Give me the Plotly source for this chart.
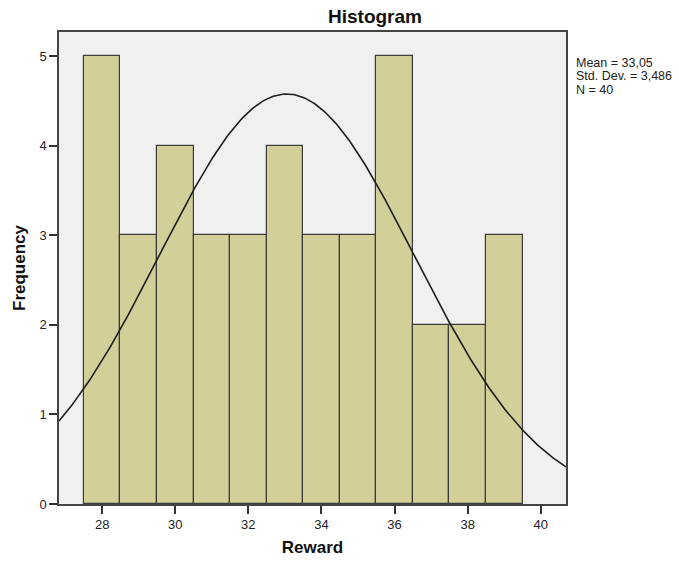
import numpy as np
import plotly.graph_objects as go

# Data
bin_centers = [28, 29, 30, 31, 32, 33, 34, 35, 36, 37, 38, 39]
counts = [5, 3, 4, 3, 3, 4, 3, 3, 5, 2, 2, 3]
mean_val = 33.05
std_val = 3.486
n_val = 40
bin_width = 1.0
x_ticks = [28, 30, 32, 34, 36, 38, 40]
y_ticks = [0, 1, 2, 3, 4, 5]
stats_lines = ["Mean = 33,05", "Std. Dev. = 3,486", "N = 40"]

W, H = 679, 566
plot_l, plot_r, plot_t, plot_b = 59, 566, 32, 508
ml, mt, mr, mb = plot_l, plot_t, W - plot_r, H - plot_b
pw = plot_r - plot_l
ph = plot_b - plot_t

xr = [26.82, 40.69]
yr = [0, 5.27]

# fitted normal curve from the stated statistics
cx = np.linspace(xr[0], xr[1], 300)
cy = n_val * bin_width / (std_val * np.sqrt(2 * np.pi)) * np.exp(-0.5 * ((cx - mean_val) / std_val) ** 2)

fig = go.Figure()
fig.add_trace(go.Bar(
    x=bin_centers, y=counts, width=bin_width,
    marker=dict(color="#D3CF98", line=dict(color="#3C3C3C", width=1.2)),
    hoverinfo="x+y",
))
fig.add_trace(go.Scatter(
    x=cx, y=cy, mode="lines",
    line=dict(color="#1E1E1E", width=1.6),
    hoverinfo="skip",
))

fig.update_layout(
    width=W, height=H,
    margin=dict(l=ml, r=mr, t=mt, b=mb),
    paper_bgcolor="white",
    plot_bgcolor="#F0F0F0",
    showlegend=False,
    bargap=0,
    font=dict(family="Arial, Liberation Sans, sans-serif", color="#222222", size=13),
)

fig.update_xaxes(
    range=xr, tickvals=x_ticks, ticktext=[str(t) for t in x_ticks],
    ticks="outside", ticklen=8, tickwidth=1.5, tickcolor="#333333",
    showline=True, linecolor="#444444", linewidth=1.5, mirror=True,
    showgrid=False, zeroline=False,
    tickfont=dict(size=13, color="#222222"),
    title=dict(text="<b>Reward</b>", font=dict(size=17, color="#111111"), standoff=10),
)
fig.update_yaxes(
    range=yr, tickvals=y_ticks, ticktext=[str(t) for t in y_ticks],
    ticks="outside", ticklen=8, tickwidth=1.5, tickcolor="#333333",
    showline=True, linecolor="#444444", linewidth=1.5, mirror=True,
    showgrid=False, zeroline=False,
    tickfont=dict(size=13, color="#222222"),
    title=dict(text="<b>Frequency</b>", font=dict(size=17, color="#111111"), standoff=9),
)

fig.add_annotation(
    text="<b>Histogram</b>", xref="paper", yref="paper",
    x=(375 - plot_l) / pw, y=1 + (plot_t - 16.5) / ph,
    xanchor="center", yanchor="middle", showarrow=False,
    font=dict(size=19, color="#111111"),
)

line_y = [63, 76.5, 90]
for txt, yy in zip(stats_lines, line_y):
    fig.add_annotation(
        text=txt, xref="paper", yref="paper",
        x=(574 - plot_l) / pw, y=1 - (yy - plot_t) / ph,
        xanchor="left", yanchor="middle", showarrow=False,
        font=dict(size=12.5, color="#222222"),
    )

# remove the browser's default body margin so the figure sits at the page origin
fig.write_html(
    "out.html",
    config={"displayModeBar": False},
    post_script="document.body.style.margin='0';",
)
